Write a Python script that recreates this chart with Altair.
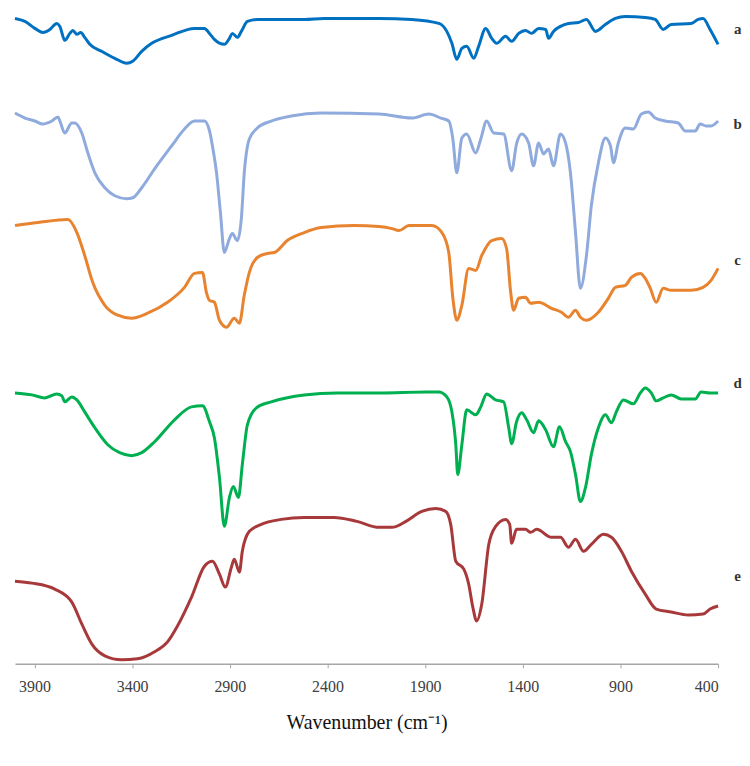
import altair as alt
import pandas as pd

# Wavenumber (cm-1) and relative transmittance (a.u., stacked)
a_wn = [4000, 3949, 3898, 3857, 3821, 3786, 3770, 3745, 3719, 3704, 3683, 3663, 3643, 3617, 3556, 3489, 3428, 3397, 3351, 3300, 3198, 3081, 3030, 3004, 2979, 2928, 2902, 2887, 2861, 2841, 2810, 2759, 2519, 2417, 2136, 1968, 1830, 1789, 1763, 1738, 1712, 1687, 1651, 1626, 1590, 1559, 1534, 1488, 1457, 1421, 1386, 1355, 1319, 1283, 1268, 1243, 1207, 1166, 1115, 1074, 1028, 977, 926, 875, 773, 722, 681, 640, 538, 502, 477, 441, 400]
a_val = [648, 645, 638, 634, 637, 643, 640, 626, 633, 636, 632, 634, 629, 622, 615, 608, 603, 605, 615, 623, 631, 638, 638, 633, 627, 622, 628, 633, 629, 635, 645, 647, 647, 648, 648, 647, 643, 635, 623, 607, 618, 620, 608, 620, 638, 628, 623, 630, 625, 633, 636, 633, 638, 637, 628, 635, 640, 643, 644, 647, 635, 642, 648, 650, 649, 647, 637, 642, 643, 647, 648, 637, 622]

b_wn = [4000, 3949, 3898, 3857, 3811, 3780, 3770, 3745, 3709, 3694, 3658, 3627, 3591, 3540, 3489, 3428, 3397, 3351, 3285, 3198, 3132, 3081, 3030, 3004, 2989, 2968, 2948, 2928, 2902, 2887, 2861, 2841, 2826, 2800, 2759, 2688, 2586, 2432, 2136, 1968, 1881, 1820, 1779, 1758, 1738, 1712, 1687, 1641, 1615, 1585, 1549, 1498, 1457, 1432, 1406, 1370, 1345, 1319, 1294, 1268, 1243, 1207, 1181, 1156, 1130, 1105, 1074, 1049, 1013, 977, 951, 936, 911, 875, 834, 793, 757, 722, 671, 604, 568, 517, 492, 461, 436, 400]
b_val = [553, 548, 545, 542, 545, 549, 545, 533, 543, 543, 533, 513, 493, 478, 470, 467, 468, 478, 497, 520, 537, 545, 545, 535, 520, 493, 453, 413, 427, 432, 425, 447, 493, 527, 538, 545, 550, 553, 552, 548, 552, 548, 545, 527, 493, 528, 532, 513, 527, 545, 533, 532, 495, 522, 532, 523, 500, 523, 512, 517, 500, 532, 523, 493, 433, 377, 410, 460, 503, 528, 520, 503, 523, 538, 537, 552, 554, 548, 545, 543, 535, 535, 542, 540, 540, 545]

c_wn = [4000, 3883, 3729, 3683, 3643, 3602, 3540, 3474, 3403, 3321, 3219, 3132, 3081, 3040, 3020, 3004, 2979, 2953, 2917, 2877, 2851, 2826, 2800, 2759, 2708, 2672, 2606, 2519, 2432, 2264, 2136, 2070, 2034, 1983, 1866, 1814, 1779, 1758, 1738, 1712, 1677, 1641, 1610, 1559, 1508, 1483, 1462, 1447, 1421, 1386, 1360, 1319, 1253, 1202, 1166, 1130, 1105, 1074, 1013, 962, 926, 875, 844, 798, 773, 747, 717, 681, 640, 538, 477, 436, 400]
c_val = [440, 443, 446, 433, 410, 383, 360, 350, 347, 352, 363, 378, 392, 393, 373, 365, 363, 345, 338, 347, 342, 370, 393, 408, 412, 413, 425, 433, 438, 440, 439, 437, 435, 440, 440, 433, 413, 367, 345, 360, 397, 395, 410, 425, 427, 417, 373, 355, 367, 368, 362, 363, 357, 353, 348, 355, 348, 345, 353, 367, 378, 380, 388, 392, 387, 377, 363, 377, 375, 375, 378, 385, 397]

d_wn = [4000, 3913, 3847, 3786, 3760, 3745, 3709, 3683, 3643, 3591, 3525, 3464, 3403, 3351, 3285, 3183, 3096, 3040, 3004, 2979, 2953, 2928, 2902, 2882, 2856, 2836, 2810, 2764, 2688, 2519, 2351, 2136, 1896, 1830, 1789, 1763, 1743, 1733, 1712, 1687, 1641, 1615, 1585, 1539, 1498, 1472, 1457, 1432, 1406, 1380, 1345, 1319, 1283, 1243, 1212, 1181, 1156, 1130, 1105, 1079, 1049, 1013, 977, 946, 921, 885, 834, 798, 773, 742, 717, 681, 640, 589, 517, 487, 441, 400]
d_val = [272, 270, 267, 271, 269, 263, 268, 265, 253, 237, 220, 212, 209, 212, 223, 245, 258, 259, 243, 227, 187, 138, 167, 178, 167, 200, 240, 257, 263, 270, 272, 272, 273, 273, 268, 253, 220, 190, 220, 255, 250, 258, 271, 265, 263, 237, 221, 243, 252, 245, 232, 244, 235, 218, 238, 223, 213, 190, 163, 177, 210, 237, 250, 242, 253, 265, 261, 272, 277, 272, 264, 267, 270, 266, 266, 273, 272, 272]

e_wn = [4000, 3913, 3796, 3709, 3658, 3607, 3540, 3454, 3372, 3285, 3219, 3168, 3096, 3030, 2989, 2953, 2923, 2892, 2877, 2851, 2836, 2800, 2739, 2637, 2519, 2366, 2249, 2136, 2070, 1998, 1917, 1845, 1794, 1769, 1743, 1702, 1677, 1656, 1636, 1610, 1574, 1539, 1488, 1467, 1457, 1432, 1386, 1360, 1329, 1253, 1207, 1166, 1130, 1089, 1049, 987, 946, 895, 844, 773, 717, 640, 553, 477, 441, 400]
e_val = [83, 81, 75, 62, 40, 20, 8, 4, 5, 12, 22, 38, 67, 98, 103, 90, 77, 97, 105, 92, 113, 133, 140, 145, 147, 147, 143, 137, 137, 143, 153, 156, 153, 140, 103, 95, 80, 57, 43, 60, 120, 138, 145, 140, 121, 135, 135, 132, 135, 127, 127, 117, 125, 113, 120, 130, 127, 113, 93, 70, 55, 52, 49, 50, 55, 58]

series_names = ["a", "b", "c", "d", "e"]
series_colors = ["#0070C0", "#8FAADC", "#E8832F", "#00B050", "#A8393B"]
label_wn = [300, 300, 300, 300, 300]
label_val = [637, 542, 405, 282, 88]
tick_values = [3900, 3400, 2900, 2400, 1900, 1400, 900, 400]

rows = []
for name, wn, val in zip(series_names,
                         [a_wn, b_wn, c_wn, d_wn, e_wn],
                         [a_val, b_val, c_val, d_val, e_val]):
    for w, v in zip(wn, val):
        rows.append({"series": name, "wn": w, "val": v})
df = pd.DataFrame(rows)
labels = pd.DataFrame({"series": series_names, "wn": label_wn, "val": label_val})

xscale = alt.Scale(domain=[4000, 400], nice=False, zero=False)
yscale = alt.Scale(domain=[0, 652], zero=False, nice=False)
xaxis = alt.Axis(values=tick_values, format="d", title="Wavenumber (cm⁻¹)")

lines = alt.Chart(df).mark_line(strokeWidth=3, clip=False, interpolate="monotone").encode(
    x=alt.X("wn:Q", scale=xscale, axis=xaxis),
    y=alt.Y("val:Q", scale=yscale, axis=None),
    color=alt.Color("series:N",
                    scale=alt.Scale(domain=series_names, range=series_colors),
                    legend=None),
    detail="series:N",
    order=alt.Order("wn:Q"),
)

text = alt.Chart(labels).mark_text(
    font="Liberation Serif", fontSize=15, fontWeight="bold",
    color="#333333", align="center", baseline="middle", clip=False
).encode(
    x=alt.X("wn:Q", scale=xscale, axis=xaxis),
    y=alt.Y("val:Q", scale=yscale, axis=None),
    text="series:N",
)

chart = alt.layer(lines, text).properties(
    width=706, height=652,
    padding={"left": 1, "top": 0, "right": 0, "bottom": 0},
).configure_view(stroke=None).configure_axisX(
    grid=False,
    domainColor="#A6A6A6", domainWidth=1.5,
    tickColor="#A6A6A6", tickSize=4, tickWidth=1,
    labelFont="Liberation Sans Narrow", labelFontSize=16, labelColor="#404040",
    labelPadding=11,
    titleFont="Liberation Serif", titleFontSize=20, titleFontWeight="normal",
    titleColor="#111111", titlePadding=18,
)

chart.save("out.html", embed_options={"renderer": "svg", "actions": False})
